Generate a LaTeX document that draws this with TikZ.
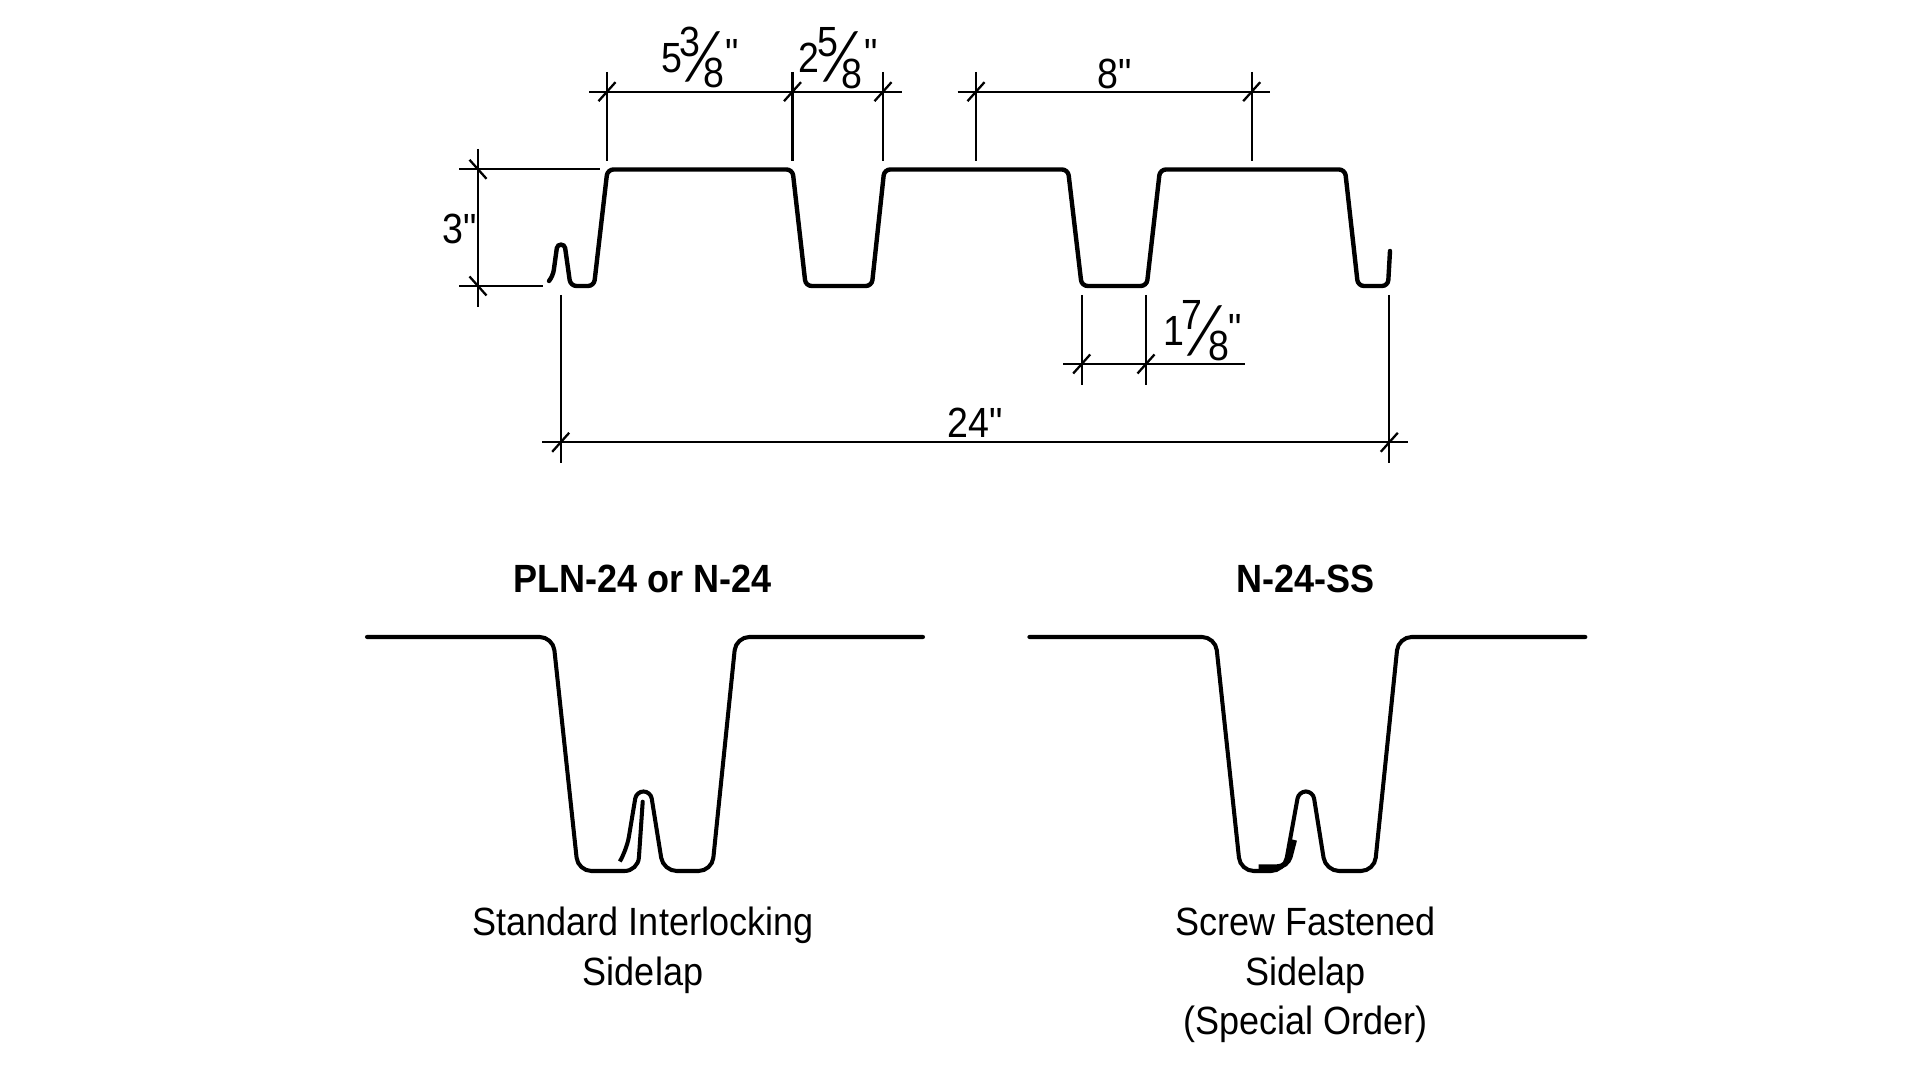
\documentclass[tikz,border=0pt]{standalone}
\usepackage{fontspec}
\setmainfont{Liberation Sans}[Ligatures=TeXOff]
\newfontfamily\slashfont{Lato Light}
\tikzset{
  dimline/.style={line width=.65pt},
  profile/.style={line width=1.25pt, rounded corners=1.7pt, line cap=round},
  sidelap/.style={line width=1.15pt, rounded corners=3.8pt, line cap=round},
  label/.style={inner sep=0pt, xscale=.89, font=\fontsize{12}{14}\selectfont},
  caption/.style={inner sep=0pt, anchor=base, xscale=.915, font=\fontsize{11.2}{13}\selectfont},
  boldcaption/.style={caption, font=\fontsize{11.2}{13}\selectfont\bfseries},
  slash/.style={inner sep=0pt, xscale=1.5, font=\fontsize{18.7}{20}\selectfont\slashfont}
}
\begin{document}
\begin{tikzpicture}[x=.01cm, y=-.01cm]
  \useasboundingbox (0,0) rectangle (1920,1080);

  % deck profile
  \draw[profile] (549,281)--(553,276)--(556,254) .. controls (557.5,243.5) and (564.5,243.5) .. (566,254)
    --(570.5,286)--(594,286)
    --(607.5,169.5)--(792.5,169.5)--(805.7,286)--(871.8,286)--(884.3,169.5)
    --(1068,169.5)--(1081.7,286)--(1146.7,286)--(1160,169.5)--(1345,169.5)
    --(1358,286)--(1388,286)--(1390,251);

  % extension lines
  \foreach \x in {607,792.5,883,976,1251.7} {
    \draw[dimline] (\x,72)--(\x,161);
  }
  \foreach \x in {1081.7,1146} {
    \draw[dimline] (\x,295)--(\x,385);
  }
  \foreach \x in {560.7,1389.3} {
    \draw[dimline] (\x,295)--(\x,463);
  }
  \draw[dimline] (459,169.3)--(600,169.3);
  \draw[dimline] (459,286)--(543,286);

  % dimension lines
  \draw[dimline] (589,91.7)--(901.5,91.7);
  \draw[dimline] (957.5,91.7)--(1270,91.7);
  \draw[dimline] (1063,364)--(1245,364);
  \draw[dimline] (542.4,442.3)--(1407.7,442.3);
  \draw[dimline] (478,149)--(478,307);

  % ticks
  \foreach \x/\y in {607/91.7,792.5/91.7,883/91.7,976/91.7,1251.7/91.7,
    1081.7/364,1146/364,560.7/442.3,1389.3/442.3} {
    \draw[dimline] (\x-8.5,\y+9.5)--(\x+8.5,\y-9.5);
  }
  \foreach \y in {169.3,286} {
    \draw[dimline] (478-8.5,\y-9.5)--(478+8.5,\y+9.5);
  }

  % dimension texts
  \node[label] (a1) at (671.5,58) {5};
  \node[label] (a2) at (690,42) {3};
  \node[slash] (a3) at (703,56.5) {/};
  \node[label] (a4) at (714,73) {8};
  \node[label] (a5) at (732,54) {"};

  \node[label] (b1) at (809,58) {2};
  \node[label] (b2) at (828,42) {5};
  \node[slash] (b3) at (841,57) {/};
  \node[label] (b4) at (852,74) {8};
  \node[label] (b5) at (871,54) {"};

  \node[label] (c1) at (1174,331) {1};
  \node[label] (c2) at (1192,315) {7};
  \node[slash] (c3) at (1205,330.5) {/};
  \node[label] (c4) at (1219,346) {8};
  \node[label] (c5) at (1235,329) {"};

  \node[label] (d) at (1115,74) {8"};
  \node[label] (e) at (975,423) {24"};
  \node[label] (f) at (460,229) {3"};

  % sidelap details
  \begin{scope}
    \draw[sidelap] (367,637)--(553,637)--(578,871)--(638,871)--(642.7,801.7);
    \draw[sidelap] (621.7,858.3)--(626.7,850)[rounded corners=2pt]--(636.4,791.5)--(650.6,791.5)[rounded corners=3.8pt]
      --(663.3,871)--(712,871)--(736,637)--(923,637);
    \node[boldcaption] (g) at (642.5,593) {PLN-24 or N-24};
    \node[caption] (h) at (643,936) {Standard Interlocking};
    \node[caption] (i) at (643,986) {Sidelap};
  \end{scope}

  \begin{scope}[xshift=6.62cm]
    \draw[sidelap] (367,637)--(553,637)--(578,871)--(622,871)[rounded corners=2pt]--(636.4,791.5)--(650.6,791.5)[rounded corners=3.8pt]
      --(663.3,871)--(712,871)--(736,637)--(923,637);
    \draw[line width=1.5pt, rounded corners=3pt] (596.3,867)--(625,867)--(632,840);
    \node[boldcaption] (j) at (643.5,593) {N-24-SS};
    \node[caption] (k) at (643,936) {Screw Fastened};
    \node[caption] (l) at (643,986) {Sidelap};
    \node[caption] (m) at (643,1035) {(Special Order)};
  \end{scope}
\end{tikzpicture}
\end{document}
